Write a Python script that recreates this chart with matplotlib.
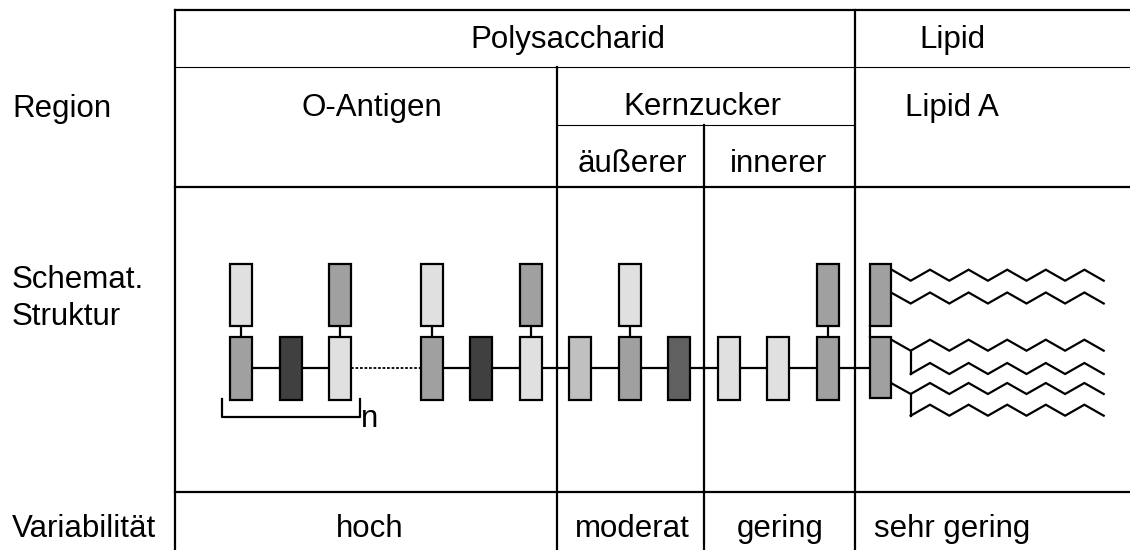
import matplotlib
matplotlib.use('Agg')
import matplotlib.pyplot as plt
from matplotlib.patches import Rectangle

plt.rcParams['font.family'] = ['Liberation Sans', 'DejaVu Sans']

# ---------------------------------------------------------------
# Inhalt der Tabelle
# ---------------------------------------------------------------
row_labels = ['Region', 'Schemat.\nStruktur', 'Variabilität']
top_headers = ['Polysaccharid', 'Lipid']
region_headers = ['O-Antigen', 'Kernzucker', 'Lipid A']
core_headers = ['äußerer', 'innerer']
variability = ['hoch', 'moderat', 'gering', 'sehr gering']

# Zuckerkette (Hauptkette, von links nach rechts) und Seitenketten
chain_shades = ['#a0a0a0', '#404040', '#e0e0e0',
                '#a0a0a0', '#404040', '#e0e0e0',
                '#c0c0c0', '#a0a0a0', '#606060',
                '#e0e0e0', '#e0e0e0', '#a0a0a0']
branch_shades = {0: '#e0e0e0', 2: '#a0a0a0', 3: '#e0e0e0',
                 5: '#a0a0a0', 7: '#e0e0e0', 11: '#a0a0a0'}
lipid_shade = '#a0a0a0'

# ---------------------------------------------------------------
# Figur in Pixelkoordinaten
# ---------------------------------------------------------------
fig = plt.figure(figsize=(11.3, 5.5), dpi=100)
ax = fig.add_axes([0, 0, 1, 1])
ax.set_xlim(0, 1130)
ax.set_ylim(550, 0)
ax.axis('off')

fs = 22.5
thick = 1.6
thin = 0.8

# Gitterlinien
ax.plot([175, 1130], [10, 10], color='black', lw=thick)
ax.plot([175, 1130], [67, 67], color='black', lw=thin)
ax.plot([557, 855], [125, 125], color='black', lw=thin)
ax.plot([175, 1130], [187, 187], color='black', lw=thick)
ax.plot([175, 1130], [492, 492], color='black', lw=thick)
ax.plot([175, 175], [10, 550], color='black', lw=thick)
ax.plot([557, 557], [67, 550], color='black', lw=thick)
ax.plot([704, 704], [125, 550], color='black', lw=thick)
ax.plot([855, 855], [10, 550], color='black', lw=thick)

# Texte
ax.text(12, 117, row_labels[0], fontsize=fs, va='baseline', ha='left')
ax.text(12, 325, row_labels[1], fontsize=fs, va='baseline', ha='left',
        linespacing=1.3)
ax.text(12, 537, row_labels[2], fontsize=fs, va='baseline', ha='left')

ax.text(568, 48, top_headers[0], fontsize=fs, ha='center', va='baseline')
ax.text(952, 48, top_headers[1], fontsize=fs, ha='center', va='baseline')
ax.text(372, 116, region_headers[0], fontsize=fs, ha='center', va='baseline')
ax.text(702, 115, region_headers[1], fontsize=fs, ha='center', va='baseline')
ax.text(952, 116, region_headers[2], fontsize=fs, ha='center', va='baseline')
ax.text(632, 172, core_headers[0], fontsize=fs, ha='center', va='baseline')
ax.text(779, 172, core_headers[1], fontsize=fs, ha='center', va='baseline')

for xc, lab in zip([370, 632, 780, 952], variability):
    ax.text(xc, 537, lab, fontsize=fs, ha='center', va='baseline')

# ---------------------------------------------------------------
# Schematische Struktur
# ---------------------------------------------------------------
bw = 22
y_chain = 367.5
y_bot, h_bot = 337, 63
y_top, h_top = 264, 62


def slot_x(i):
    if i < 3:
        return 230 + 49.5 * i
    return 420.7 + 49.5 * (i - 3)


# Verbindungslinie der Hauptkette
ax.plot([slot_x(0) + bw / 2, slot_x(2) + bw / 2], [y_chain, y_chain],
        color='black', lw=thick, zorder=1)
ax.plot([slot_x(2) + bw, slot_x(3)], [y_chain, y_chain],
        color='black', lw=1.3, linestyle=(0, (1.5, 1)), zorder=1)
ax.plot([slot_x(3) + bw / 2, 870], [y_chain, y_chain],
        color='black', lw=thick, zorder=1)

for i, shade in enumerate(chain_shades):
    x = slot_x(i)
    ax.add_patch(Rectangle((x, y_bot), bw, h_bot, facecolor=shade,
                           edgecolor='black', lw=thick, zorder=3))
    if i in branch_shades:
        ax.plot([x + bw / 2, x + bw / 2], [y_top + h_top, y_bot],
                color='black', lw=thick, zorder=2)
        ax.add_patch(Rectangle((x, y_top), bw, h_top,
                               facecolor=branch_shades[i],
                               edgecolor='black', lw=thick, zorder=3))

# Klammer mit n
ax.plot([221.7, 221.7, 360, 360], [399, 416.7, 416.7, 399],
        color='black', lw=thick)
ax.text(361, 427, 'n', fontsize=fs, ha='left', va='baseline')

# Lipid A: zwei Glucosamin-Einheiten
lx, lw_box = 870, 21
ax.add_patch(Rectangle((lx, 264), lw_box, 62, facecolor=lipid_shade,
                       edgecolor='black', lw=thick, zorder=3))
ax.add_patch(Rectangle((lx, 337), lw_box, 61, facecolor=lipid_shade,
                       edgecolor='black', lw=thick, zorder=3))
ax.plot([lx, lx], [326, 337], color='black', lw=thick, zorder=2)

# Fettsäureketten (Zickzack)
half = 19.3
x_first = 910.7
amp = 11


def zigzag(x0, y0, y_trough, from_box):
    xs, ys = [], []
    if from_box:
        xs.append(x0)
        ys.append(y0)
    for k in range(11):
        xs.append(x_first + half * k)
        ys.append(y_trough if k % 2 == 0 else y_trough - amp)
    ax.plot(xs, ys, color='black', lw=thick, zorder=2,
            solid_joinstyle='miter')


rx = lx + lw_box
zigzag(rx, 269.3, 280.7, True)
zigzag(rx, 292.5, 303.5, True)
zigzag(rx, 339.5, 350.7, True)
zigzag(x_first, 374, 374, False)
zigzag(rx, 383, 394, True)
zigzag(x_first, 415.7, 415.7, False)
ax.plot([x_first, x_first], [350.7, 374], color='black', lw=thick)
ax.plot([x_first, x_first], [394, 415.7], color='black', lw=thick)

fig.savefig('out.png', dpi=100)
